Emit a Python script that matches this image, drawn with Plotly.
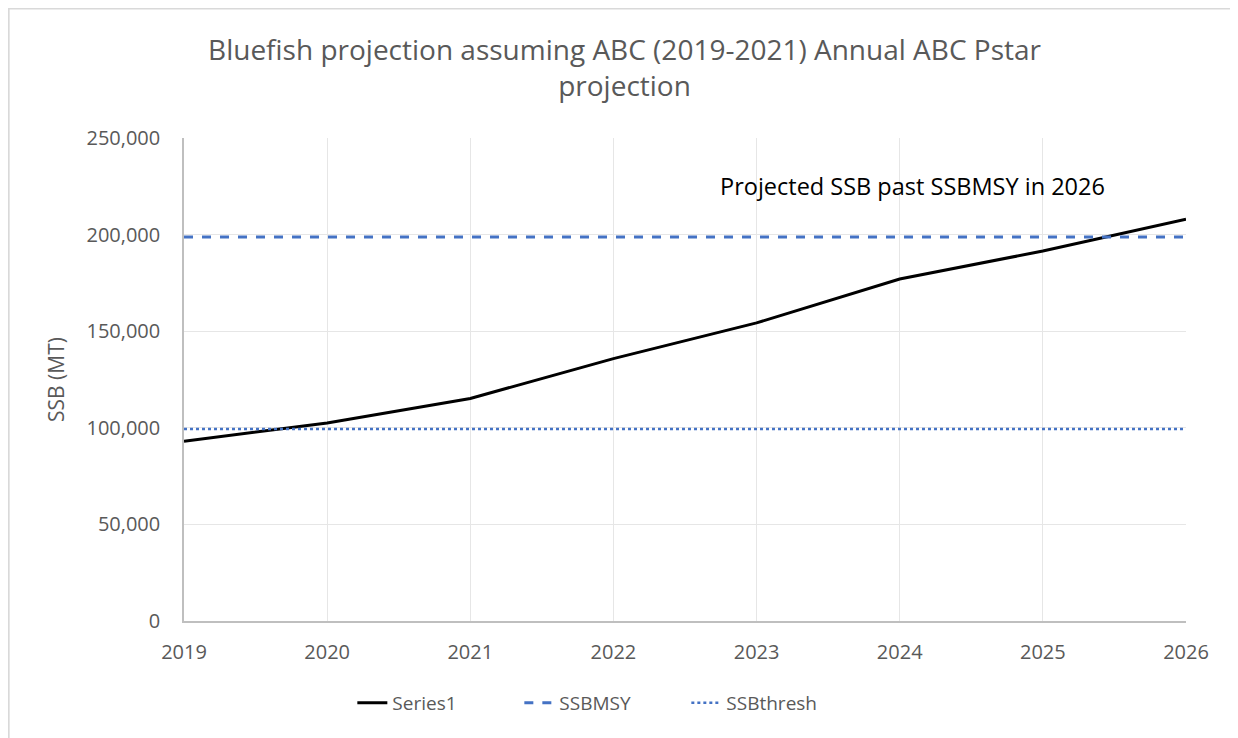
import plotly.graph_objects as go

years = [2019, 2020, 2021, 2022, 2023, 2024, 2025, 2026]
ssb = [93000, 102500, 115200, 135800, 154300, 177000, 191500, 208000]
ssb_msy = [198700] * len(years)
ssb_thresh = [99400] * len(years)

fig = go.Figure()
fig.add_trace(go.Scatter(x=years, y=ssb, name="Series1", mode="lines",
                         line=dict(color="black", width=3)))
fig.add_trace(go.Scatter(x=years, y=ssb_msy, name="SSBMSY", mode="lines",
                         line=dict(color="#4472C4", width=3, dash="dash")))
fig.add_trace(go.Scatter(x=years, y=ssb_thresh, name="SSBthresh", mode="lines",
                         line=dict(color="#4472C4", width=2.5, dash="dot")))

fig.add_annotation(x=2024.09, y=225000, text="Projected SSB past SSBMSY in 2026",
                   showarrow=False, font=dict(size=23.5, color="black"))

# chart frame (only top/left edges fall inside the picture)
fig.add_shape(type="rect", xref="paper", yref="paper", x0=-0.175, x1=1.3, y0=-0.6, y1=1.268,
              line=dict(color="#D9D9D9", width=2), layer="below")

fig.update_layout(
    width=1238, height=738,
    paper_bgcolor="white", plot_bgcolor="white",
    font=dict(family="Open Sans", color="#595959", size=20),
    title=dict(text="Bluefish projection assuming ABC (2019-2021) Annual ABC Pstar<br>projection",
               x=0.498, xanchor="center", y=0.93, yanchor="top",
               font=dict(size=28, color="#595959")),
    margin=dict(l=176, r=60, t=130, b=125),
    legend=dict(orientation="h", x=0.168, xanchor="left", y=-0.13, yanchor="top",
                entrywidth=122, entrywidthmode="pixels",
                font=dict(size=19, color="#595959")),
)
fig.update_xaxes(range=[2019, 2026], dtick=1, showgrid=True, gridcolor="#E6E6E6",
                 showline=True, linecolor="#BFBFBF", linewidth=1.5, ticks="",
                 ticklabelstandoff=12, tickfont=dict(size=20), zeroline=False)
fig.update_yaxes(range=[0, 250000], dtick=50000, tickformat=",", showgrid=True,
                 gridcolor="#E6E6E6", showline=True, linecolor="#BFBFBF", linewidth=1.5,
                 title=dict(text="SSB (MT)", font=dict(size=21), standoff=16),
                 tickfont=dict(size=20), ticklabelstandoff=18,
                 zeroline=False, ticks="")

fig.write_html("out.html")
